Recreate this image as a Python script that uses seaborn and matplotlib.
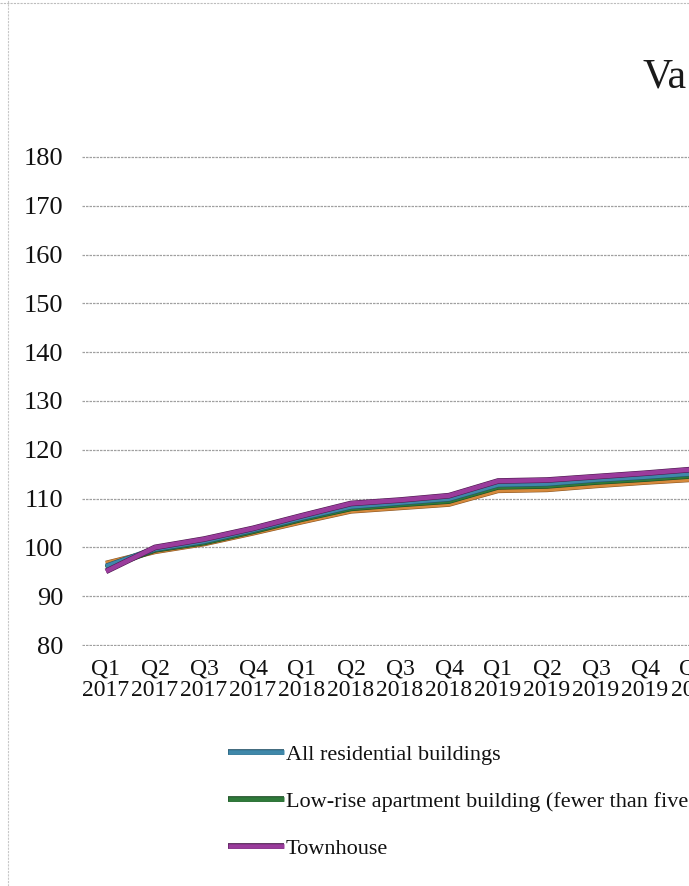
import matplotlib
matplotlib.use("Agg")
import matplotlib.pyplot as plt
import matplotlib.patheffects as pe
from matplotlib.lines import Line2D
import numpy as np
import pandas as pd
import seaborn as sns

# ---- data -------------------------------------------------------------
categories = ["Q1\n2017", "Q2\n2017", "Q3\n2017", "Q4\n2017",
              "Q1\n2018", "Q2\n2018", "Q3\n2018", "Q4\n2018",
              "Q1\n2019", "Q2\n2019", "Q3\n2019", "Q4\n2019",
              "Q1\n2020"]

all_residential = [96.1, 99.7, 101.3, 103.6, 106.1, 108.4, 109.2, 110.0,
                   112.9, 113.1, 113.9, 114.5, 115.2]
low_rise = [95.8, 99.5, 101.0, 103.3, 105.8, 108.0, 108.8, 109.5,
            112.4, 112.6, 113.4, 114.0, 114.7]
townhouse = [95.1, 100.0, 101.7, 103.9, 106.5, 109.0, 109.7, 110.6,
             113.6, 113.8, 114.5, 115.2, 116.0]
other = [96.7, 99.2, 100.8, 103.0, 105.3, 107.5, 108.2, 108.9,
         111.7, 111.9, 112.7, 113.4, 114.0]

series_labels = ["All residential buildings",
                 "Low-rise apartment building (fewer than five storeys)",
                 "Townhouse",
                 "Other"]
series_values = [all_residential, low_rise, townhouse, other]
series_colors = ["#3f88aa", "#2f7a3a", "#9a3c9c", "#d68a3c"]
edge_colors = ["#24536a", "#1b4a22", "#4a1a4c", "#8a5420"]

y_ticks = [80, 90, 100, 110, 120, 130, 140, 150, 160, 170, 180]
title_text = "Va"

# ---- long-form table ----------------------------------------------------
frames = []
for name, vals in zip(series_labels, series_values):
    frames.append(pd.DataFrame({"quarter": categories, "value": vals, "series": name}))
df = pd.concat(frames, ignore_index=True)

# ---- figure -------------------------------------------------------------
sns.set_theme(style="white")
plt.rcParams["font.family"] = ["Liberation Serif", "DejaVu Serif"]

W, H = 689, 886
fig = plt.figure(figsize=(W / 100, H / 100), dpi=100)
fig.patch.set_facecolor("white")

n_slots = 16          # category slots across the full plot area
slot_px = 49
left_px, top_px, bottom_px = 81.5, 156, 646
ax = fig.add_axes([left_px / W, 1 - bottom_px / H,
                   n_slots * slot_px / W, (bottom_px - top_px) / H])
ax.set_facecolor("white")

draw_order = [series_labels[3], series_labels[1], series_labels[0], series_labels[2]]
palette = dict(zip(series_labels, series_colors))
edges = dict(zip(series_labels, edge_colors))

LW, EW = 3.3, 4.1
sns.lineplot(data=df, x="quarter", y="value", hue="series",
             hue_order=draw_order, palette=palette, sort=False,
             linewidth=LW, legend=False, ax=ax)

for line, name in zip(ax.lines, draw_order):
    line.set_solid_capstyle("butt")
    line.set_path_effects([pe.Stroke(linewidth=EW, foreground=edges[name]),
                           pe.Normal()])

ax.set_xlim(-0.5, n_slots - 0.5)
ax.set_ylim(79.8, 180.2)
ax.set_yticks(y_ticks)
ax.set_yticklabels([str(v) for v in y_ticks], fontsize=19)
ax.set_xticks(range(len(categories)))
ax.set_xticklabels(categories, fontsize=17, linespacing=1.0)
ax.set_xlabel("")
ax.set_ylabel("")
ax.tick_params(axis="both", length=0, colors="#111111")
ax.tick_params(axis="y", pad=13)
ax.tick_params(axis="x", pad=9)

for s in ax.spines.values():
    s.set_visible(False)
ax.yaxis.grid(True, color="#a0a0a0", linewidth=0.9, linestyle=(0, (2.0, 0.8)))
ax.xaxis.grid(False)
ax.set_axisbelow(True)

# title
fig.text(687 / W, 1 - 88 / H, title_text, fontsize=30, ha="right",
         va="baseline", color="#1a1a1a")

# legend
handles = []
for name in series_labels[:3]:
    h = Line2D([], [], color=palette[name], linewidth=LW, solid_capstyle="butt")
    h.set_path_effects([pe.Stroke(linewidth=EW, foreground=edges[name]), pe.Normal()])
    handles.append(h)
fig.legend(handles, series_labels[:3], loc="upper left",
           bbox_to_anchor=(228 / W, 1 - 744 / H), frameon=False, fontsize=16,
           handlelength=2.5, handletextpad=0.1, labelspacing=1.2,
           borderpad=0, borderaxespad=0, labelcolor="#111111")

# page edges
fig.add_artist(Line2D([8 / W, 8 / W], [0, 1], color="#c8c8c8", linewidth=0.8,
                      linestyle=(0, (2, 1)), transform=fig.transFigure))
fig.add_artist(Line2D([0, 1], [1 - 3 / H, 1 - 3 / H], color="#bdbdbd", linewidth=0.8,
                      linestyle=(0, (2, 1)), transform=fig.transFigure))

fig.savefig("out.png", dpi=100, facecolor="white")
